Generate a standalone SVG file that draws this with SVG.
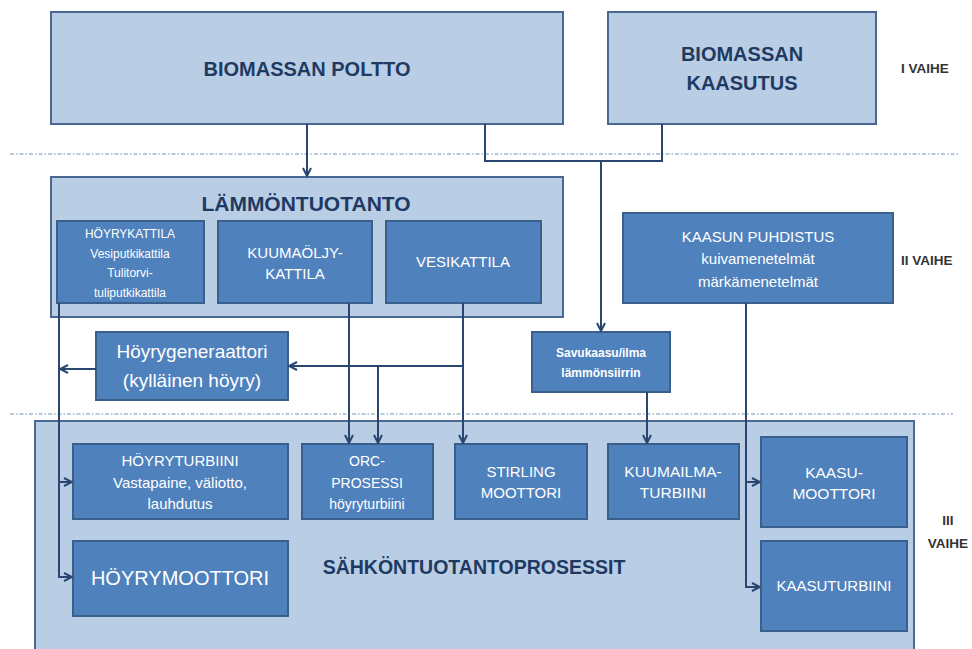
<svg xmlns="http://www.w3.org/2000/svg" width="972" height="649" viewBox="0 0 972 649">
<defs>
<style>
.light{fill:#b9cde5;stroke:#4a6894;stroke-width:2}
.dark{fill:#4f81bd;stroke:#3a5f8d;stroke-width:2}
.tl{font-family:"Liberation Sans",Arial,sans-serif;font-weight:bold;fill:#1f3a62;text-anchor:middle}
.tw{font-family:"Liberation Sans",Arial,sans-serif;fill:#ffffff;text-anchor:middle}
.ph{font-family:"Liberation Sans",Arial,sans-serif;font-weight:bold;fill:#333333;font-size:13.5px}
.dot{stroke:#a3b6cf;stroke-width:1.6;stroke-dasharray:4 2 1.5 2;fill:none}
.con{stroke:#2a4670;stroke-width:2;fill:none}
.arr{stroke:#2a4670;stroke-width:2;fill:none;marker-end:url(#ah)}
</style>
<marker id="ah" viewBox="0 0 10 10" refX="9" refY="5" markerWidth="10" markerHeight="10" markerUnits="userSpaceOnUse" orient="auto">
<path d="M1,1 L9,5 L1,9" fill="none" stroke="#2a4670" stroke-width="2"/>
</marker>
</defs>
<rect width="972" height="649" fill="#ffffff"/>
<line class="dot" x1="10" y1="154" x2="959" y2="154"/>
<line class="dot" x1="10" y1="414" x2="953" y2="414"/>

<g id="biomassan-poltto">
<rect class="light" x="51" y="12" width="512" height="112"/>
<text class="tl" x="307" y="76" font-size="20">BIOMASSAN POLTTO</text>
</g>
<g id="biomassan-kaasutus">
<rect class="light" x="608" y="12" width="268" height="112"/>
<text class="tl" x="742" y="61" font-size="20">BIOMASSAN</text>
<text class="tl" x="742" y="90" font-size="20">KAASUTUS</text>
</g>
<g id="lammontuotanto">
<rect class="light" x="51" y="177" width="512" height="140"/>
<text class="tl" x="306" y="211" font-size="21">LÄMMÖNTUOTANTO</text>
</g>
<g id="hoyrykattila">
<rect class="dark" x="57" y="221" width="147" height="82"/>
<text class="tw" x="130" y="238" font-size="12">HÖYRYKATTILA</text>
<text class="tw" x="130" y="258" font-size="12">Vesiputkikattila</text>
<text class="tw" x="130" y="277" font-size="12">Tulitorvi-</text>
<text class="tw" x="130" y="297" font-size="12">tuliputkikattila</text>
</g>
<g id="kuumaoljykattila">
<rect class="dark" x="218" y="221" width="154" height="82"/>
<text class="tw" x="295" y="258" font-size="15">KUUMAÖLJY-</text>
<text class="tw" x="295" y="279" font-size="15">KATTILA</text>
</g>
<g id="vesikattila">
<rect class="dark" x="386" y="221" width="155" height="82"/>
<text class="tw" x="463" y="267" font-size="15">VESIKATTILA</text>
</g>
<g id="kaasun-puhdistus">
<rect class="dark" x="623" y="213" width="270" height="90"/>
<text class="tw" x="758" y="242" font-size="15">KAASUN PUHDISTUS</text>
<text class="tw" x="758" y="264" font-size="15">kuivamenetelmät</text>
<text class="tw" x="758" y="287" font-size="15">märkämenetelmät</text>
</g>
<g id="hoyrygeneraattori">
<rect class="dark" x="96" y="332" width="192" height="68"/>
<text class="tw" x="192" y="358" font-size="19">Höyrygeneraattori</text>
<text class="tw" x="192" y="387" font-size="19">(kylläinen höyry)</text>
</g>
<g id="savukaasu">
<rect class="dark" x="532" y="332" width="138" height="60"/>
<text class="tw" x="601" y="357" font-size="12" font-weight="bold">Savukaasu/ilma</text>
<text class="tw" x="601" y="377" font-size="12" font-weight="bold">lämmönsiirrin</text>
</g>
<g id="sahkontuotantoprosessit">
<rect class="light" x="35" y="421" width="879" height="236"/>
<text class="tl" x="474" y="574" font-size="19.5">SÄHKÖNTUOTANTOPROSESSIT</text>
</g>
<g id="hoyryturbiini">
<rect class="dark" x="73" y="444" width="215" height="75"/>
<text class="tw" x="180" y="466" font-size="15">HÖYRYTURBIINI</text>
<text class="tw" x="180" y="488" font-size="15">Vastapaine, väliotto,</text>
<text class="tw" x="180" y="509" font-size="15">lauhdutus</text>
</g>
<g id="orc-prosessi">
<rect class="dark" x="302" y="444" width="131" height="75"/>
<text class="tw" x="367" y="466" font-size="14">ORC-</text>
<text class="tw" x="367" y="488" font-size="14">PROSESSI</text>
<text class="tw" x="367" y="509" font-size="14">höyryturbiini</text>
</g>
<g id="stirling">
<rect class="dark" x="455" y="444" width="132" height="75"/>
<text class="tw" x="521" y="477" font-size="15">STIRLING</text>
<text class="tw" x="521" y="498" font-size="15">MOOTTORI</text>
</g>
<g id="kuumailmaturbiini">
<rect class="dark" x="608" y="444" width="131" height="75"/>
<text class="tw" x="673" y="477" font-size="15.5">KUUMAILMA-</text>
<text class="tw" x="673" y="498" font-size="15.5">TURBIINI</text>
</g>
<g id="kaasumoottori">
<rect class="dark" x="761" y="437" width="146" height="90"/>
<text class="tw" x="834" y="478" font-size="15.5">KAASU-</text>
<text class="tw" x="834" y="499" font-size="15.5">MOOTTORI</text>
</g>
<g id="kaasuturbiini">
<rect class="dark" x="761" y="541" width="146" height="90"/>
<text class="tw" x="834" y="591" font-size="15">KAASUTURBIINI</text>
</g>
<g id="hoyrymoottori">
<rect class="dark" x="73" y="541" width="215" height="75"/>
<text class="tw" x="180" y="585" font-size="20">HÖYRYMOOTTORI</text>
</g>

<g id="phases">
<text class="ph" x="901" y="73">I VAIHE</text>
<text class="ph" x="901" y="265">II VAIHE</text>
<text class="ph" x="948" y="525" text-anchor="middle">III</text>
<text class="ph" x="948" y="548" text-anchor="middle">VAIHE</text>
</g>

<g id="connectors">
<path class="arr" d="M307,124 V176"/>
<path class="con" d="M485,124 V161 H662 V124"/>
<path class="arr" d="M601,161 V331"/>
<path class="arr" d="M647,392 V443"/>
<path class="arr" d="M746,303 V587 H760"/>
<path class="arr" d="M746,482 H760"/>
<path class="arr" d="M59,303 V577 H72"/>
<path class="arr" d="M59,482 H72"/>
<path class="arr" d="M96,369 H60"/>
<path class="arr" d="M349,303 V443"/>
<path class="arr" d="M463,303 V443"/>
<path class="arr" d="M463,366 H289"/>
<path class="arr" d="M378,366 V443"/>
</g>
</svg>
